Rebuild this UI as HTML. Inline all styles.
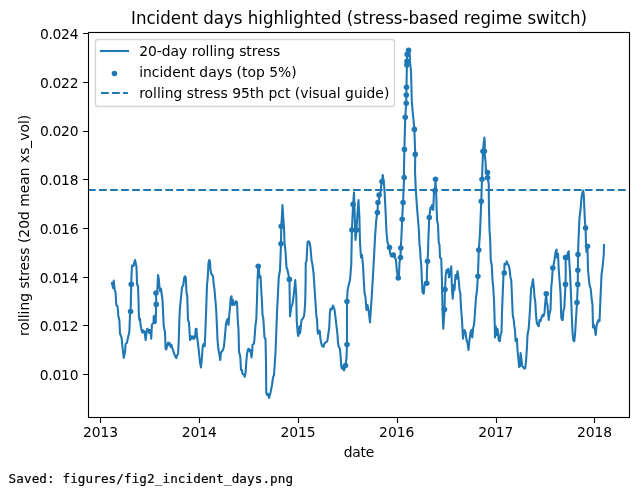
<!DOCTYPE html>
<html><head><meta charset="utf-8"><style>
html,body{margin:0;padding:0;background:#fff;}
body{width:642px;height:488px;position:relative;overflow:hidden;}
svg{position:absolute;left:0;top:0;}
</style></head><body>
<svg width="642" height="488" viewBox="0 0 642 488">
<rect x="0" y="0" width="642" height="488" fill="#fff"/>
<defs><clipPath id="c"><rect x="88.5" y="32.5" width="541.0" height="385.0"/></clipPath></defs>
<g clip-path="url(#c)">
<polyline points="111.90,283.00 113.10,288.10 113.75,280.60 114.75,290.00 115.60,292.50 116.25,305.00 117.50,306.25 118.20,313.00 118.10,314.75 119.40,320.40 120.00,333.50 121.50,337.25 122.50,347.25 123.10,352.25 123.75,357.90 125.00,352.25 125.60,344.00 126.90,342.90 128.10,337.25 129.40,331.60 130.00,314.00 130.60,311.60 131.25,284.40 131.50,275.00 132.00,265.60 132.80,265.60 133.50,266.00 134.30,262.00 135.00,260.00 135.70,263.00 136.50,267.00 137.10,285.00 138.00,285.60 138.50,300.00 138.90,316.00 139.40,320.00 140.00,318.75 140.60,325.00 141.25,328.75 142.25,332.50 142.75,330.00 143.50,332.50 144.40,331.25 145.00,335.00 145.60,340.00 146.25,335.00 146.90,329.40 147.50,328.75 148.10,331.25 148.75,330.00 149.40,333.10 150.00,330.00 150.60,331.25 151.25,338.75 151.90,325.00 152.50,323.75 153.50,323.10 153.75,316.25 154.75,315.60 155.25,323.10 155.75,322.50 156.00,307.50 156.25,304.40 156.00,293.10 157.25,292.50 158.00,275.00 158.75,278.75 159.50,287.50 160.25,291.25 161.00,288.75 161.75,295.00 162.50,300.00 163.75,326.25 165.00,332.50 165.60,348.75 166.25,349.40 167.25,345.00 168.10,342.50 169.00,345.00 169.75,343.10 170.60,346.90 171.50,345.00 172.25,348.10 173.10,350.00 173.75,352.50 174.75,355.00 175.60,356.90 176.25,358.10 177.25,355.00 178.10,353.75 178.75,340.00 179.40,318.75 180.00,307.50 180.75,300.00 182.00,287.50 183.25,285.00 184.25,277.50 185.00,276.25 185.75,277.50 186.50,292.50 187.25,296.25 188.00,320.00 189.00,322.50 190.00,340.00 191.00,336.25 192.00,338.75 193.00,336.25 194.00,338.75 195.00,337.50 195.75,328.75 196.50,328.75 197.00,336.25 198.00,343.75 199.00,352.50 200.00,362.50 201.00,367.50 201.75,360.00 202.75,346.25 203.75,343.75 204.75,346.25 205.50,327.50 206.25,307.50 207.00,285.00 207.75,277.50 208.50,262.50 209.25,260.00 210.00,261.25 210.50,270.00 211.25,273.75 212.25,275.00 213.00,276.25 213.50,282.50 214.40,288.75 215.60,302.50 216.25,311.00 216.90,325.00 217.50,340.00 218.50,350.00 219.50,355.00 220.25,360.00 221.00,352.50 222.00,351.25 223.00,350.00 224.00,346.25 225.00,335.00 226.00,323.75 227.00,320.00 227.75,318.75 228.50,325.00 229.25,315.00 230.00,307.50 230.75,297.50 231.50,296.25 232.25,305.00 233.00,300.00 233.75,303.75 234.50,305.00 235.25,302.50 236.00,301.25 237.00,302.50 237.75,320.00 238.50,330.00 238.75,340.00 239.00,351.90 240.25,356.25 241.00,370.00 241.90,370.00 242.50,373.75 243.75,374.40 244.75,376.90 245.60,372.50 246.25,362.50 246.90,355.00 247.90,349.40 248.75,348.75 249.75,351.25 250.60,350.00 251.50,357.50 252.25,351.25 252.50,345.00 253.75,343.75 254.40,340.00 255.50,325.00 256.25,320.00 257.00,300.00 257.50,280.00 258.25,266.25 258.75,265.00 259.50,277.50 260.50,276.25 261.25,290.00 262.00,302.50 262.50,315.00 263.25,318.00 263.75,325.00 264.50,337.50 265.50,338.75 266.00,362.50 266.25,392.50 267.00,395.00 268.00,393.75 269.00,398.00 270.00,395.00 271.00,390.00 272.00,385.00 273.00,377.50 274.00,375.00 274.50,367.50 275.50,352.50 276.25,332.50 277.00,312.50 277.50,302.50 278.75,277.50 280.00,270.00 281.00,243.75 281.25,226.25 282.00,215.00 282.50,205.00 283.25,217.50 284.00,227.50 284.50,242.50 285.50,251.25 286.50,267.50 287.50,270.00 288.50,275.00 289.40,279.40 289.70,295.00 290.00,316.25 291.25,307.50 292.50,303.75 293.75,295.00 295.25,280.00 296.25,295.00 296.75,321.25 297.75,333.75 298.25,336.00 299.00,331.25 299.50,326.25 300.10,333.10 300.75,327.50 301.50,320.00 302.40,319.40 303.25,317.50 304.00,316.25 304.60,311.25 305.25,300.00 305.60,282.50 305.75,262.50 306.50,261.25 307.50,242.50 308.50,241.25 309.50,242.50 310.50,247.50 311.50,260.00 312.50,265.00 313.50,272.50 314.50,287.50 315.50,302.50 315.50,302.50 316.50,317.50 317.00,318.75 317.50,330.00 318.00,333.75 319.00,330.60 319.90,331.25 320.25,337.50 321.10,342.50 322.00,345.60 323.60,346.90 324.25,343.75 325.50,342.50 326.75,341.90 327.40,340.60 328.00,336.25 329.25,327.50 329.90,312.50 330.50,308.75 331.75,309.40 333.00,305.60 333.60,307.50 334.50,309.40 335.50,317.50 336.50,326.25 337.40,333.75 338.00,342.50 338.60,346.25 339.90,348.75 340.50,355.00 341.25,366.25 342.00,368.75 343.00,366.25 344.00,370.50 345.50,365.50 346.50,358.00 347.00,344.50 347.00,330.00 347.00,301.50 347.60,290.00 349.00,283.75 350.00,280.00 351.25,265.00 351.90,230.00 353.10,204.40 354.00,192.50 354.75,217.50 355.50,240.00 356.50,230.00 357.50,212.50 358.50,200.00 359.40,217.50 360.00,242.50 361.00,257.50 362.00,255.00 363.00,265.00 363.75,280.00 364.50,292.50 365.50,297.50 366.50,310.00 367.50,305.00 368.50,310.00 370.00,322.50 371.00,307.50 372.00,292.50 373.00,275.00 374.00,257.50 375.00,237.50 376.25,220.00 377.40,212.50 378.00,202.50 379.00,201.25 379.10,195.00 380.50,192.50 381.25,185.00 382.00,181.50 382.75,175.00 383.75,182.50 384.50,190.00 385.50,210.00 386.50,232.50 387.50,242.50 389.50,247.50 390.00,252.50 391.00,256.25 392.00,255.00 393.25,255.00 394.50,253.75 395.00,257.50 396.00,260.00 396.75,270.00 397.50,275.00 398.25,278.00 399.00,275.00 399.50,262.50 400.50,257.50 400.80,248.00 401.25,240.00 402.20,219.25 402.75,207.50 403.10,202.50 403.75,185.00 404.20,177.50 403.90,171.00 404.40,149.40 404.75,135.00 405.25,117.25 406.25,103.25 406.30,95.00 406.50,87.25 406.75,72.50 406.90,65.00 407.00,61.25 407.20,54.40 408.00,51.00 408.60,50.25 409.50,51.00 409.80,56.00 410.00,62.00 410.60,67.00 411.00,72.00 411.40,85.00 411.75,100.00 412.50,110.00 413.50,120.00 414.40,129.40 414.75,141.25 415.25,154.40 415.00,171.00 415.75,188.75 417.00,207.50 418.25,222.50 418.90,231.00 419.50,245.00 420.00,247.50 420.50,257.50 421.25,265.00 422.00,282.50 422.50,292.50 423.75,293.75 424.50,285.00 425.00,282.50 426.75,283.25 427.00,270.00 427.50,261.25 428.00,252.50 428.25,242.50 429.25,217.50 430.50,207.50 431.50,208.75 432.00,205.00 433.25,210.00 434.00,191.25 435.00,190.50 435.50,179.25 436.25,195.00 437.00,220.00 438.00,225.00 438.75,242.50 439.50,245.00 440.00,257.50 441.25,258.75 442.00,282.50 442.50,310.00 443.25,328.75 444.50,309.50 445.00,289.50 445.75,275.00 446.50,270.00 447.50,272.50 448.25,268.75 449.00,277.50 450.00,273.75 451.25,266.25 452.00,290.00 452.75,298.75 453.75,285.00 454.50,290.00 455.50,275.00 456.50,278.75 457.50,271.25 458.50,277.50 459.50,290.00 460.25,292.50 461.00,307.50 462.00,320.00 463.00,338.75 463.75,332.50 464.50,330.00 465.50,332.50 466.50,340.00 467.50,342.50 468.50,350.00 469.50,340.00 470.50,332.50 471.50,330.00 472.25,337.50 473.25,327.50 474.00,325.00 475.00,312.50 476.00,297.50 477.00,290.00 477.90,276.25 478.30,265.00 478.80,250.00 480.00,232.50 481.25,201.25 482.00,179.25 483.00,151.25 483.50,145.00 484.40,137.50 484.90,145.00 484.40,151.25 485.60,162.50 486.00,173.75 487.50,172.50 487.60,177.80 488.00,180.00 488.75,183.75 488.90,205.00 489.50,230.00 490.20,240.00 490.75,260.00 491.75,265.00 492.50,280.00 493.25,287.50 494.00,300.00 494.50,315.00 495.00,337.50 495.75,326.25 496.50,335.00 497.50,328.75 498.75,340.00 499.75,341.25 500.75,333.75 501.50,332.50 502.00,312.50 502.75,292.50 503.50,275.00 504.25,273.00 504.50,263.75 505.00,265.00 506.00,263.75 506.75,261.25 507.50,263.75 508.50,265.00 509.50,268.75 510.50,277.50 511.25,280.00 512.00,297.50 512.75,315.00 513.75,320.00 514.50,327.50 515.00,330.00 515.60,341.25 516.90,338.75 517.50,350.00 518.50,360.00 519.10,366.90 520.00,366.25 520.60,353.10 521.25,357.50 522.25,366.25 523.10,366.90 524.40,368.75 525.25,368.10 526.00,361.25 526.90,348.75 527.50,335.00 528.75,328.00 529.90,311.00 530.60,297.50 531.10,288.75 532.00,285.00 533.00,279.40 533.75,286.25 534.50,297.50 535.25,301.25 536.00,315.00 536.75,322.50 537.75,325.00 538.75,326.25 539.50,320.00 540.50,321.25 541.50,317.50 542.50,315.00 543.50,316.25 544.50,312.50 545.50,300.00 546.25,293.75 546.75,302.50 547.50,305.00 548.25,315.00 548.75,320.00 549.50,313.75 550.50,310.00 551.25,287.50 552.00,280.00 552.80,268.00 553.50,265.00 554.50,260.00 555.50,252.50 556.50,249.50 557.00,257.50 558.00,253.75 558.75,270.00 559.50,280.00 560.50,292.50 561.25,317.50 562.00,320.00 562.75,320.00 563.50,310.00 564.25,308.75 565.50,284.40 565.75,270.00 565.50,257.50 566.50,256.25 567.00,257.50 568.00,252.50 568.75,251.25 569.50,265.00 570.00,272.00 571.00,295.00 571.75,315.00 572.50,332.50 573.25,340.00 574.25,341.25 575.00,335.00 575.75,322.50 577.00,302.50 577.80,284.40 577.90,270.30 578.00,254.50 578.50,240.00 579.50,217.50 580.50,210.00 581.50,197.50 582.50,192.50 583.10,190.60 583.75,195.00 584.40,210.00 585.00,222.50 585.60,228.10 586.00,243.75 586.50,252.00 587.50,246.25 588.00,270.00 589.50,285.00 590.75,288.75 591.50,297.50 592.50,305.00 593.00,327.50 594.00,325.00 595.00,330.00 595.75,335.00 596.50,326.25 597.50,322.50 598.50,320.00 599.50,321.25 600.50,297.50 601.50,275.00 602.50,267.50 603.75,255.00 604.00,245.00" fill="none" stroke="#1f77b4" stroke-width="2.083" stroke-linejoin="round" stroke-linecap="square"/>
<line x1="88.0" y1="190.0" x2="629.5" y2="190.0" stroke="#1f77b4" stroke-width="2.083" stroke-dasharray="7.708 3.333"/>
<circle cx="130.60" cy="311.60" r="2.780" fill="#1f77b4"/>
<circle cx="131.25" cy="284.40" r="2.780" fill="#1f77b4"/>
<circle cx="156.00" cy="293.10" r="2.780" fill="#1f77b4"/>
<circle cx="156.25" cy="304.40" r="2.780" fill="#1f77b4"/>
<circle cx="258.25" cy="266.25" r="2.780" fill="#1f77b4"/>
<circle cx="281.00" cy="243.75" r="2.780" fill="#1f77b4"/>
<circle cx="281.25" cy="226.25" r="2.780" fill="#1f77b4"/>
<circle cx="289.40" cy="279.40" r="2.780" fill="#1f77b4"/>
<circle cx="345.50" cy="365.50" r="2.780" fill="#1f77b4"/>
<circle cx="347.00" cy="344.50" r="2.780" fill="#1f77b4"/>
<circle cx="347.00" cy="301.50" r="2.780" fill="#1f77b4"/>
<circle cx="351.90" cy="230.00" r="2.780" fill="#1f77b4"/>
<circle cx="353.10" cy="204.40" r="2.780" fill="#1f77b4"/>
<circle cx="356.50" cy="230.00" r="2.780" fill="#1f77b4"/>
<circle cx="377.40" cy="212.50" r="2.780" fill="#1f77b4"/>
<circle cx="378.00" cy="202.50" r="2.780" fill="#1f77b4"/>
<circle cx="379.10" cy="195.00" r="2.780" fill="#1f77b4"/>
<circle cx="382.00" cy="181.50" r="2.780" fill="#1f77b4"/>
<circle cx="389.50" cy="247.50" r="2.780" fill="#1f77b4"/>
<circle cx="393.25" cy="255.00" r="2.780" fill="#1f77b4"/>
<circle cx="398.25" cy="278.00" r="2.780" fill="#1f77b4"/>
<circle cx="400.50" cy="257.50" r="2.780" fill="#1f77b4"/>
<circle cx="400.80" cy="248.00" r="2.780" fill="#1f77b4"/>
<circle cx="402.20" cy="219.25" r="2.780" fill="#1f77b4"/>
<circle cx="403.10" cy="202.50" r="2.780" fill="#1f77b4"/>
<circle cx="404.20" cy="177.50" r="2.780" fill="#1f77b4"/>
<circle cx="404.40" cy="149.40" r="2.780" fill="#1f77b4"/>
<circle cx="405.25" cy="117.25" r="2.780" fill="#1f77b4"/>
<circle cx="406.25" cy="103.25" r="2.780" fill="#1f77b4"/>
<circle cx="406.30" cy="95.00" r="2.780" fill="#1f77b4"/>
<circle cx="406.50" cy="87.25" r="2.780" fill="#1f77b4"/>
<circle cx="406.90" cy="65.00" r="2.780" fill="#1f77b4"/>
<circle cx="407.00" cy="61.25" r="2.780" fill="#1f77b4"/>
<circle cx="407.20" cy="54.40" r="2.780" fill="#1f77b4"/>
<circle cx="408.60" cy="50.25" r="2.780" fill="#1f77b4"/>
<circle cx="414.40" cy="129.40" r="2.780" fill="#1f77b4"/>
<circle cx="415.25" cy="154.40" r="2.780" fill="#1f77b4"/>
<circle cx="426.75" cy="283.25" r="2.780" fill="#1f77b4"/>
<circle cx="427.50" cy="261.25" r="2.780" fill="#1f77b4"/>
<circle cx="429.25" cy="217.50" r="2.780" fill="#1f77b4"/>
<circle cx="435.00" cy="190.50" r="2.780" fill="#1f77b4"/>
<circle cx="435.50" cy="179.25" r="2.780" fill="#1f77b4"/>
<circle cx="444.50" cy="309.50" r="2.780" fill="#1f77b4"/>
<circle cx="445.00" cy="289.50" r="2.780" fill="#1f77b4"/>
<circle cx="477.90" cy="276.25" r="2.780" fill="#1f77b4"/>
<circle cx="478.80" cy="250.00" r="2.780" fill="#1f77b4"/>
<circle cx="481.25" cy="201.25" r="2.780" fill="#1f77b4"/>
<circle cx="482.00" cy="179.25" r="2.780" fill="#1f77b4"/>
<circle cx="483.00" cy="151.25" r="2.780" fill="#1f77b4"/>
<circle cx="484.40" cy="151.25" r="2.780" fill="#1f77b4"/>
<circle cx="487.50" cy="172.50" r="2.780" fill="#1f77b4"/>
<circle cx="487.60" cy="177.80" r="2.780" fill="#1f77b4"/>
<circle cx="504.25" cy="273.00" r="2.780" fill="#1f77b4"/>
<circle cx="546.25" cy="293.75" r="2.780" fill="#1f77b4"/>
<circle cx="552.80" cy="268.00" r="2.780" fill="#1f77b4"/>
<circle cx="565.50" cy="284.40" r="2.780" fill="#1f77b4"/>
<circle cx="565.50" cy="257.50" r="2.780" fill="#1f77b4"/>
<circle cx="567.00" cy="257.50" r="2.780" fill="#1f77b4"/>
<circle cx="577.00" cy="302.50" r="2.780" fill="#1f77b4"/>
<circle cx="577.80" cy="284.40" r="2.780" fill="#1f77b4"/>
<circle cx="577.90" cy="270.30" r="2.780" fill="#1f77b4"/>
<circle cx="578.00" cy="254.50" r="2.780" fill="#1f77b4"/>
<circle cx="585.60" cy="228.10" r="2.780" fill="#1f77b4"/>
<circle cx="587.50" cy="246.25" r="2.780" fill="#1f77b4"/>
</g>
<rect x="88.5" y="32.5" width="541.0" height="385.0" fill="none" stroke="#000" stroke-width="1.111" stroke-linecap="square"/>
<path d="M100.5 417.5v5.400 M199.5 417.5v5.400 M298.5 417.5v5.400 M397.5 417.5v5.400 M496.5 417.5v5.400 M594.5 417.5v5.400 M88.5 374.50h-5.400 M88.5 325.50h-5.400 M88.5 277.50h-5.400 M88.5 228.50h-5.400 M88.5 179.50h-5.400 M88.5 131.50h-5.400 M88.5 82.50h-5.400 M88.5 33.50h-5.400" stroke="#000" stroke-width="1.111" fill="none"/>
<rect x="95.44" y="39.44" width="299.12" height="67.00" rx="2.778" fill="#fff" fill-opacity="0.8" stroke="#ccc" stroke-opacity="0.8" stroke-width="1.389"/>
<line x1="99.9" y1="51.0" x2="129.0" y2="51.0" stroke="#1f77b4" stroke-width="2.083"/>
<circle cx="114.45" cy="73.45" r="2.780" fill="#1f77b4"/>
<line x1="101.0" y1="93.0" x2="127.9" y2="93.0" stroke="#1f77b4" stroke-width="2.083" stroke-dasharray="7.708 3.333"/>
<g font-family="'DejaVu Sans', 'Liberation Sans', sans-serif" fill="#000">
<text x="0" y="0" font-size="16.667" text-anchor="middle" textLength="455.88" lengthAdjust="spacing" transform="translate(359.00,23.97) scale(1,1.06)">Incident days highlighted (stress-based regime switch)</text>
<text x="0" y="0" font-size="13.889" text-anchor="middle" textLength="30.55" lengthAdjust="spacing" transform="translate(359.00,456.68) scale(1,1.05)">date</text>
<text x="0" y="0" font-size="13.889" text-anchor="middle" textLength="221.25" lengthAdjust="spacing" transform="translate(28.81,225.35) rotate(-90) scale(1,1.03)">rolling stress (20d mean xs_vol)</text>
<text x="0" y="0" font-size="13.889" text-anchor="middle" textLength="35.12" lengthAdjust="spacing" transform="translate(100.50,437.32) scale(1,1.05)">2013</text>
<text x="0" y="0" font-size="13.889" text-anchor="middle" textLength="35.12" lengthAdjust="spacing" transform="translate(199.25,437.32) scale(1,1.05)">2014</text>
<text x="0" y="0" font-size="13.889" text-anchor="middle" textLength="35.12" lengthAdjust="spacing" transform="translate(297.99,437.32) scale(1,1.05)">2015</text>
<text x="0" y="0" font-size="13.889" text-anchor="middle" textLength="35.25" lengthAdjust="spacing" transform="translate(396.74,437.32) scale(1,1.05)">2016</text>
<text x="0" y="0" font-size="13.889" text-anchor="middle" textLength="35.12" lengthAdjust="spacing" transform="translate(495.75,437.32) scale(1,1.05)">2017</text>
<text x="0" y="0" font-size="13.889" text-anchor="middle" textLength="35.25" lengthAdjust="spacing" transform="translate(594.50,437.32) scale(1,1.05)">2018</text>
<text x="0" y="0" font-size="13.889" text-anchor="end" textLength="38.71" lengthAdjust="spacing" transform="translate(78.48,380.00) scale(1,1.0)">0.010</text>
<text x="0" y="0" font-size="13.889" text-anchor="end" textLength="38.71" lengthAdjust="spacing" transform="translate(78.48,331.29) scale(1,1.0)">0.012</text>
<text x="0" y="0" font-size="13.889" text-anchor="end" textLength="38.71" lengthAdjust="spacing" transform="translate(78.48,282.57) scale(1,1.0)">0.014</text>
<text x="0" y="0" font-size="13.889" text-anchor="end" textLength="38.83" lengthAdjust="spacing" transform="translate(78.48,233.86) scale(1,1.0)">0.016</text>
<text x="0" y="0" font-size="13.889" text-anchor="end" textLength="38.83" lengthAdjust="spacing" transform="translate(78.48,185.14) scale(1,1.0)">0.018</text>
<text x="0" y="0" font-size="13.889" text-anchor="end" textLength="38.59" lengthAdjust="spacing" transform="translate(78.48,136.43) scale(1,1.0)">0.020</text>
<text x="0" y="0" font-size="13.889" text-anchor="end" textLength="38.59" lengthAdjust="spacing" transform="translate(78.48,87.72) scale(1,1.0)">0.022</text>
<text x="0" y="0" font-size="13.889" text-anchor="end" textLength="38.59" lengthAdjust="spacing" transform="translate(78.48,39.00) scale(1,1.0)">0.024</text>
<text x="0" y="0" font-size="13.889" text-anchor="start" textLength="141.00" lengthAdjust="spacing" transform="translate(139.19,56.00) scale(1,1.0)">20-day rolling stress</text>
<text x="0" y="0" font-size="13.889" text-anchor="start" textLength="157.38" lengthAdjust="spacing" transform="translate(139.19,76.94) scale(1,1.0)">incident days (top 5%)</text>
<text x="0" y="0" font-size="13.889" text-anchor="start" textLength="250.12" lengthAdjust="spacing" transform="translate(139.19,97.89) scale(1,1.0)">rolling stress 95th pct (visual guide)</text>
</g></svg>
<svg width="642" height="488" style="position:absolute;left:0;top:0"><text x="8.6" y="482.6" font-family="'DejaVu Sans Mono', monospace" font-size="12.6" textLength="284.5" lengthAdjust="spacing" fill="#000" stroke="#000" stroke-width="0.2">Saved: figures/fig2_incident_days.png</text></svg>
</body></html>
